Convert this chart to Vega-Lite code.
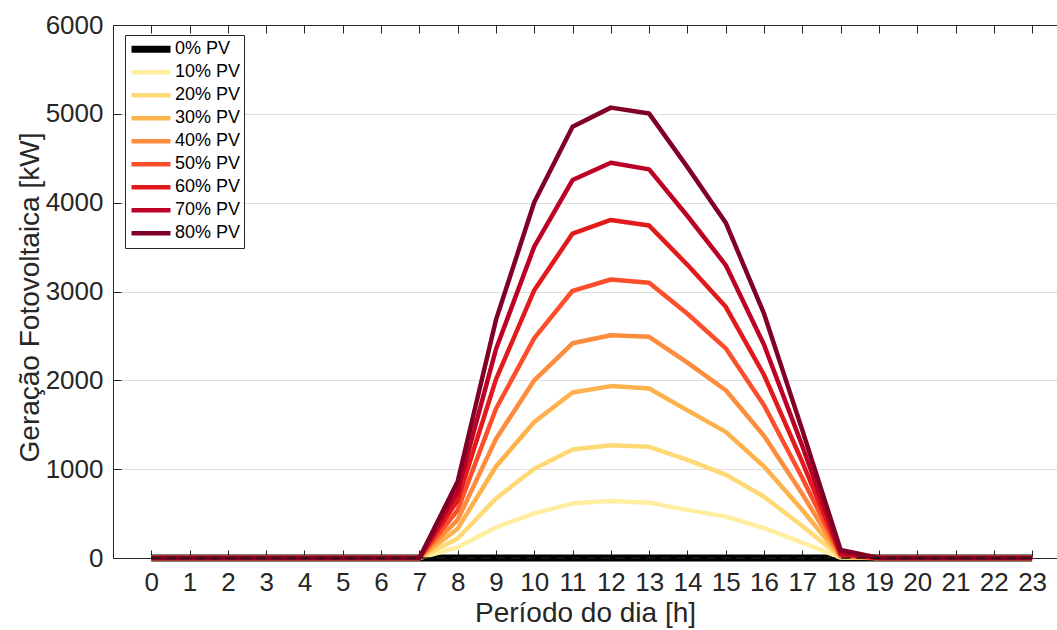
{
"$schema":"https://vega.github.io/schema/vega-lite/v6.json",
"width":944,"height":533,
"autosize":{"type":"none"},
"padding":{"left":113,"top":25,"right":0,"bottom":72},
"background":"white",
"config":{"view":{"stroke":null},"font":"Liberation Sans",
 "legend":{"orient":"none","legendX":12,"legendY":10,"fillColor":"white","strokeColor":"#262626","strokeWidth":1,"padding":3,"symbolType":"stroke","symbolSize":1521,"labelFontSize":18,"labelColor":"#000000","clipHeight":22.6,"rowPadding":0,"labelOffset":1,"title":null,"labelFont":"Liberation Sans"}},
"data":{"values":[
{"h":0,"s":"0% PV","v":0},{"h":1,"s":"0% PV","v":0},{"h":2,"s":"0% PV","v":0},{"h":3,"s":"0% PV","v":0},{"h":4,"s":"0% PV","v":0},{"h":5,"s":"0% PV","v":0},{"h":6,"s":"0% PV","v":0},{"h":7,"s":"0% PV","v":0},{"h":8,"s":"0% PV","v":0},{"h":9,"s":"0% PV","v":0},{"h":10,"s":"0% PV","v":0},{"h":11,"s":"0% PV","v":0},{"h":12,"s":"0% PV","v":0},{"h":13,"s":"0% PV","v":0},{"h":14,"s":"0% PV","v":0},{"h":15,"s":"0% PV","v":0},{"h":16,"s":"0% PV","v":0},{"h":17,"s":"0% PV","v":0},{"h":18,"s":"0% PV","v":0},{"h":19,"s":"0% PV","v":0},{"h":20,"s":"0% PV","v":0},{"h":21,"s":"0% PV","v":0},{"h":22,"s":"0% PV","v":0},{"h":23,"s":"0% PV","v":0},
{"h":0,"s":"10% PV","v":0},{"h":1,"s":"10% PV","v":0},{"h":2,"s":"10% PV","v":0},{"h":3,"s":"10% PV","v":0},{"h":4,"s":"10% PV","v":0},{"h":5,"s":"10% PV","v":0},{"h":6,"s":"10% PV","v":0},{"h":7,"s":"10% PV","v":0},{"h":8,"s":"10% PV","v":120},{"h":9,"s":"10% PV","v":345},{"h":10,"s":"10% PV","v":503},{"h":11,"s":"10% PV","v":615},{"h":12,"s":"10% PV","v":643},{"h":13,"s":"10% PV","v":623},{"h":14,"s":"10% PV","v":542},{"h":15,"s":"10% PV","v":466},{"h":16,"s":"10% PV","v":336},{"h":17,"s":"10% PV","v":172},{"h":18,"s":"10% PV","v":5},{"h":19,"s":"10% PV","v":0},{"h":20,"s":"10% PV","v":0},{"h":21,"s":"10% PV","v":0},{"h":22,"s":"10% PV","v":0},{"h":23,"s":"10% PV","v":0},
{"h":0,"s":"20% PV","v":0},{"h":1,"s":"20% PV","v":0},{"h":2,"s":"20% PV","v":0},{"h":3,"s":"20% PV","v":0},{"h":4,"s":"20% PV","v":0},{"h":5,"s":"20% PV","v":0},{"h":6,"s":"20% PV","v":0},{"h":7,"s":"20% PV","v":0},{"h":8,"s":"20% PV","v":220},{"h":9,"s":"20% PV","v":670},{"h":10,"s":"20% PV","v":1005},{"h":11,"s":"20% PV","v":1222},{"h":12,"s":"20% PV","v":1270},{"h":13,"s":"20% PV","v":1252},{"h":14,"s":"20% PV","v":1105},{"h":15,"s":"20% PV","v":938},{"h":16,"s":"20% PV","v":690},{"h":17,"s":"20% PV","v":360},{"h":18,"s":"20% PV","v":10},{"h":19,"s":"20% PV","v":0},{"h":20,"s":"20% PV","v":0},{"h":21,"s":"20% PV","v":0},{"h":22,"s":"20% PV","v":0},{"h":23,"s":"20% PV","v":0},
{"h":0,"s":"30% PV","v":0},{"h":1,"s":"30% PV","v":0},{"h":2,"s":"30% PV","v":0},{"h":3,"s":"30% PV","v":0},{"h":4,"s":"30% PV","v":0},{"h":5,"s":"30% PV","v":0},{"h":6,"s":"30% PV","v":0},{"h":7,"s":"30% PV","v":0},{"h":8,"s":"30% PV","v":330},{"h":9,"s":"30% PV","v":1030},{"h":10,"s":"30% PV","v":1530},{"h":11,"s":"30% PV","v":1862},{"h":12,"s":"30% PV","v":1935},{"h":13,"s":"30% PV","v":1908},{"h":14,"s":"30% PV","v":1662},{"h":15,"s":"30% PV","v":1420},{"h":16,"s":"30% PV","v":1030},{"h":17,"s":"30% PV","v":540},{"h":18,"s":"30% PV","v":15},{"h":19,"s":"30% PV","v":0},{"h":20,"s":"30% PV","v":0},{"h":21,"s":"30% PV","v":0},{"h":22,"s":"30% PV","v":0},{"h":23,"s":"30% PV","v":0},
{"h":0,"s":"40% PV","v":0},{"h":1,"s":"40% PV","v":0},{"h":2,"s":"40% PV","v":0},{"h":3,"s":"40% PV","v":0},{"h":4,"s":"40% PV","v":0},{"h":5,"s":"40% PV","v":0},{"h":6,"s":"40% PV","v":0},{"h":7,"s":"40% PV","v":0},{"h":8,"s":"40% PV","v":430},{"h":9,"s":"40% PV","v":1340},{"h":10,"s":"40% PV","v":2000},{"h":11,"s":"40% PV","v":2417},{"h":12,"s":"40% PV","v":2508},{"h":13,"s":"40% PV","v":2490},{"h":14,"s":"40% PV","v":2200},{"h":15,"s":"40% PV","v":1888},{"h":16,"s":"40% PV","v":1375},{"h":17,"s":"40% PV","v":720},{"h":18,"s":"40% PV","v":20},{"h":19,"s":"40% PV","v":0},{"h":20,"s":"40% PV","v":0},{"h":21,"s":"40% PV","v":0},{"h":22,"s":"40% PV","v":0},{"h":23,"s":"40% PV","v":0},
{"h":0,"s":"50% PV","v":0},{"h":1,"s":"50% PV","v":0},{"h":2,"s":"50% PV","v":0},{"h":3,"s":"50% PV","v":0},{"h":4,"s":"50% PV","v":0},{"h":5,"s":"50% PV","v":0},{"h":6,"s":"50% PV","v":0},{"h":7,"s":"50% PV","v":0},{"h":8,"s":"50% PV","v":540},{"h":9,"s":"50% PV","v":1680},{"h":10,"s":"50% PV","v":2475},{"h":11,"s":"50% PV","v":3008},{"h":12,"s":"50% PV","v":3135},{"h":13,"s":"50% PV","v":3098},{"h":14,"s":"50% PV","v":2750},{"h":15,"s":"50% PV","v":2360},{"h":16,"s":"50% PV","v":1720},{"h":17,"s":"50% PV","v":900},{"h":18,"s":"50% PV","v":30},{"h":19,"s":"50% PV","v":0},{"h":20,"s":"50% PV","v":0},{"h":21,"s":"50% PV","v":0},{"h":22,"s":"50% PV","v":0},{"h":23,"s":"50% PV","v":0},
{"h":0,"s":"60% PV","v":0},{"h":1,"s":"60% PV","v":0},{"h":2,"s":"60% PV","v":0},{"h":3,"s":"60% PV","v":0},{"h":4,"s":"60% PV","v":0},{"h":5,"s":"60% PV","v":0},{"h":6,"s":"60% PV","v":0},{"h":7,"s":"60% PV","v":0},{"h":8,"s":"60% PV","v":650},{"h":9,"s":"60% PV","v":2010},{"h":10,"s":"60% PV","v":3015},{"h":11,"s":"60% PV","v":3652},{"h":12,"s":"60% PV","v":3805},{"h":13,"s":"60% PV","v":3742},{"h":14,"s":"60% PV","v":3300},{"h":15,"s":"60% PV","v":2828},{"h":16,"s":"60% PV","v":2060},{"h":17,"s":"60% PV","v":1080},{"h":18,"s":"60% PV","v":40},{"h":19,"s":"60% PV","v":0},{"h":20,"s":"60% PV","v":0},{"h":21,"s":"60% PV","v":0},{"h":22,"s":"60% PV","v":0},{"h":23,"s":"60% PV","v":0},
{"h":0,"s":"70% PV","v":0},{"h":1,"s":"70% PV","v":0},{"h":2,"s":"70% PV","v":0},{"h":3,"s":"70% PV","v":0},{"h":4,"s":"70% PV","v":0},{"h":5,"s":"70% PV","v":0},{"h":6,"s":"70% PV","v":0},{"h":7,"s":"70% PV","v":0},{"h":8,"s":"70% PV","v":750},{"h":9,"s":"70% PV","v":2350},{"h":10,"s":"70% PV","v":3505},{"h":11,"s":"70% PV","v":4255},{"h":12,"s":"70% PV","v":4450},{"h":13,"s":"70% PV","v":4375},{"h":14,"s":"70% PV","v":3850},{"h":15,"s":"70% PV","v":3298},{"h":16,"s":"70% PV","v":2400},{"h":17,"s":"70% PV","v":1260},{"h":18,"s":"70% PV","v":55},{"h":19,"s":"70% PV","v":0},{"h":20,"s":"70% PV","v":0},{"h":21,"s":"70% PV","v":0},{"h":22,"s":"70% PV","v":0},{"h":23,"s":"70% PV","v":0},
{"h":0,"s":"80% PV","v":0},{"h":1,"s":"80% PV","v":0},{"h":2,"s":"80% PV","v":0},{"h":3,"s":"80% PV","v":0},{"h":4,"s":"80% PV","v":0},{"h":5,"s":"80% PV","v":0},{"h":6,"s":"80% PV","v":0},{"h":7,"s":"80% PV","v":0},{"h":8,"s":"80% PV","v":860},{"h":9,"s":"80% PV","v":2680},{"h":10,"s":"80% PV","v":4005},{"h":11,"s":"80% PV","v":4855},{"h":12,"s":"80% PV","v":5070},{"h":13,"s":"80% PV","v":5003},{"h":14,"s":"80% PV","v":4400},{"h":15,"s":"80% PV","v":3775},{"h":16,"s":"80% PV","v":2750},{"h":17,"s":"80% PV","v":1440},{"h":18,"s":"80% PV","v":90},{"h":19,"s":"80% PV","v":0},{"h":20,"s":"80% PV","v":0},{"h":21,"s":"80% PV","v":0},{"h":22,"s":"80% PV","v":0},{"h":23,"s":"80% PV","v":0}
]},
"layer":[
{"mark":{"type":"line","strokeJoin":"round","strokeCap":"butt"},
 "encoding":{
  "x":{"field":"h","type":"quantitative","scale":{"domain":[-1,23.65],"nice":false,"zero":false},
   "axis":{"orient":"bottom","values":[0,1,2,3,4,5,6,7,8,9,10,11,12,13,14,15,16,17,18,19,20,21,22,23],"grid":false,"tickSize":-8,"tickColor":"#262626","domainColor":"#262626","labelFontSize":26,"labelColor":"#262626","labelPadding":19,"labelFlush":false,"labelOverlap":false,"labelFont":"Liberation Sans",
    "title":"Período do dia [h]","titleFontSize":28,"titleFontWeight":"normal","titleColor":"#262626","titleFont":"Liberation Sans","titleBaseline":"alphabetic","titleY":63}},
  "y":{"field":"v","type":"quantitative","scale":{"domain":[0,6000],"nice":false},
   "axis":{"values":[0,1000,2000,3000,4000,5000,6000],"format":"d","grid":true,"gridColor":"#dedede","tickSize":-8,"tickColor":"#262626","domainColor":"#262626","labelFontSize":26,"labelColor":"#262626","labelPadding":18,"labelFont":"Liberation Sans",
    "title":"Geração Fotovoltaica [kW]","titleFontSize":28,"titleFontWeight":"normal","titleColor":"#262626","titleFont":"Liberation Sans","titleX":-83,"titleY":272,"titleBaseline":"middle","titleAngle":-90}},
  "color":{"field":"s","type":"nominal","sort":null,
   "scale":{"domain":["0% PV","10% PV","20% PV","30% PV","40% PV","50% PV","60% PV","70% PV","80% PV"],"range":["#000000","#ffeda0","#fed976","#feb24c","#fd8d3c","#fc4e2a","#e31a1c","#bd0026","#800026"]},
   "legend":{"labelExpr":"datum.label === '0% PV' ? '\u00a00% PV' : datum.label"}},
  "strokeWidth":{"field":"s","type":"nominal","sort":null,
   "scale":{"type":"ordinal","domain":["0% PV","10% PV","20% PV","30% PV","40% PV","50% PV","60% PV","70% PV","80% PV"],"range":[7,4.5,4.5,4.5,4.5,4.5,4.5,4.5,4.5]},
   "legend":{"labelExpr":"datum.label === '0% PV' ? '\u00a00% PV' : datum.label"}}
 }},
{"transform":[{"filter":"datum.s === '0% PV'"}],
 "mark":{"type":"line","color":"#1a1a1a","strokeWidth":1.5,"strokeDash":[9,6]},
 "encoding":{
  "x":{"field":"h","type":"quantitative","axis":{"orient":"top","values":[0,1,2,3,4,5,6,7,8,9,10,11,12,13,14,15,16,17,18,19,20,21,22,23],"labels":false,"grid":false,"tickSize":-8,"tickColor":"#262626","domainColor":"#262626","title":null}},
  "y":{"field":"v","type":"quantitative"}
 }}
]
}
